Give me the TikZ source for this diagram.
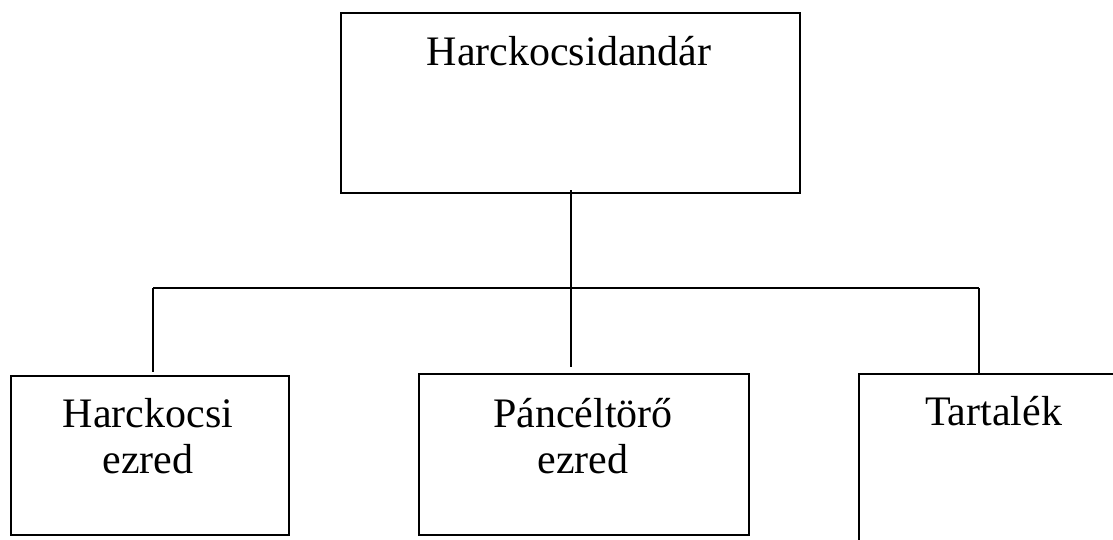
\documentclass[tikz,border=0pt]{standalone}
\usepackage{fontspec}
\setmainfont{Liberation Serif}
\begin{document}
\begin{tikzpicture}[x=1pt,y=-1pt,
  box/.style={draw=black, line width=1.8pt, rectangle, inner sep=0pt},
  lbl/.style={font=\fontsize{42}{46}\selectfont, align=center, inner sep=0pt, anchor=base},
  conn/.style={draw=black, line width=1.8pt}]
\useasboundingbox (0,0) rectangle (1113,539);
\clip (0,0) rectangle (1113,539);
\fill[white] (0,0) rectangle (1113,539);
% boxes
\node[box, minimum width=459pt, minimum height=180pt] (top) at (570.5,103) {};
\node[box, minimum width=278pt, minimum height=159pt] (left) at (150,455.5) {};
\node[box, minimum width=330pt, minimum height=161pt] (mid) at (584,454.5) {};
\node[box, minimum width=270pt, minimum height=200pt] (right) at (994,474) {};
% labels (base = baseline of the last line)
\node[lbl] (ttop) at (569,65) {Harckocsidand\'ar};
\node[lbl] (tleft) at (148,473) {Harckocsi\\ezred};
\node[lbl] (tmid) at (583,473) {Páncéltörő\\ezred};
\node[lbl] (tright) at (993.5,425) {Tartalék};
% connectors
\coordinate (j) at (571,288);
\coordinate (hl) at (153,288);
\coordinate (hr) at (979,288);
\coordinate (el) at (153,372);
\coordinate (em) at (571,367);
\coordinate (er) at (979,373);
\draw[conn] (571,190) -- (j);
\draw[conn] (hl) -- (hr);
\draw[conn] (hl) -- (el);
\draw[conn] (j) -- (em);
\draw[conn] (hr) -- (er);
\end{tikzpicture}
\end{document}
